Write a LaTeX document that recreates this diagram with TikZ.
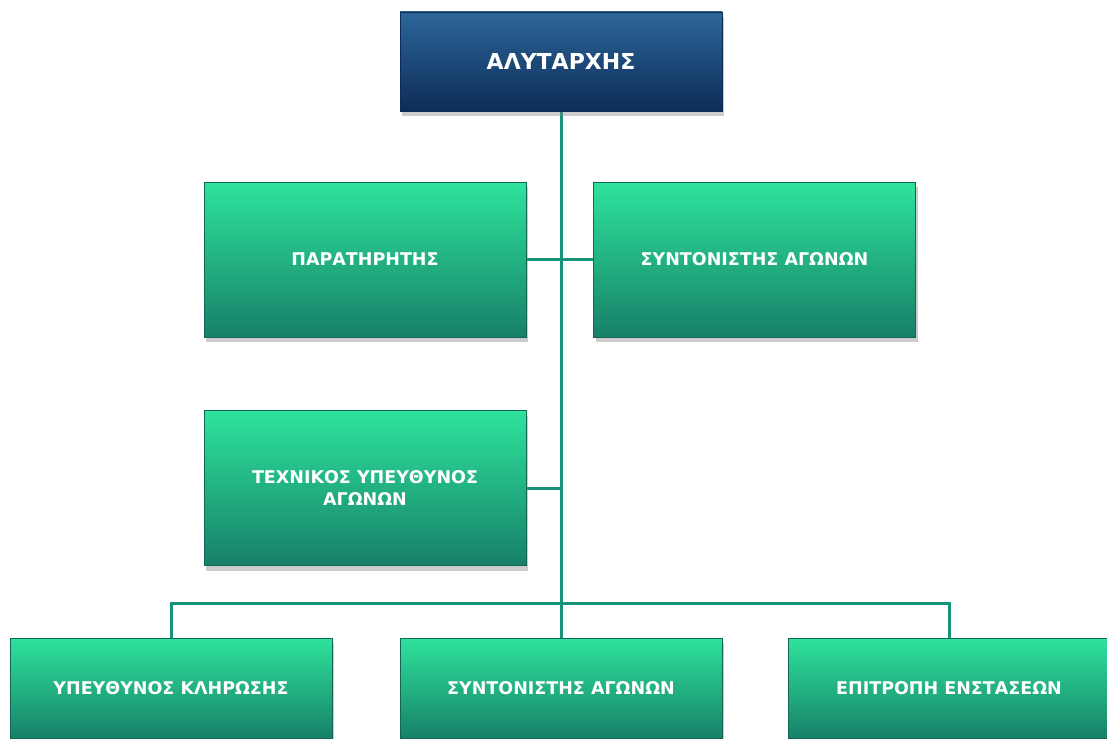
\documentclass[tikz,border=0pt]{standalone}
\usepackage{fontspec}
\setmainfont{DejaVu Sans}
\usetikzlibrary{shadows,backgrounds}
\definecolor{bluetop}{HTML}{2C6699}
\definecolor{bluebot}{HTML}{0E2C58}
\definecolor{greentop}{HTML}{2EE39C}
\definecolor{greenbot}{HTML}{178068}
\definecolor{linkcol}{HTML}{17937A}
\begin{document}
\begin{tikzpicture}[x=1pt, y=-1pt,
  box/.style={draw=greenbot!80!black, line width=0.6pt, top color=greentop, bottom color=greenbot,
    minimum width=322pt, minimum height=155pt, text=white, align=center,
    font=\bfseries\fontsize{17.5}{22}\selectfont,
    drop shadow={shadow xshift=2pt, shadow yshift=-5pt, opacity=0.4}},
  headbox/.style={box, draw=bluebot, top color=bluetop, bottom color=bluebot,
    minimum height=99pt, font=\bfseries\fontsize{22}{26}\selectfont},
  lowbox/.style={box, minimum height=100pt},
  link/.style={draw=linkcol, line width=3pt}]
\useasboundingbox (0,0) rectangle (1107,738);
% boxes
\node (chief) [headbox] at (561,61.5) {ΑΛΥΤΑΡΧΗΣ};
\node (observer) [box] at (365,259.5) {ΠΑΡΑΤΗΡΗΤΗΣ};
\node (coordA) [box] at (754.5,259.5) {ΣΥΝΤΟΝΙΣΤΗΣ ΑΓΩΝΩΝ};
\node (tech) [box] at (365,488) {ΤΕΧΝΙΚΟΣ ΥΠΕΥΘΥΝΟΣ\\ΑΓΩΝΩΝ};
\node (lot) [lowbox] at (171,688) {ΥΠΕΥΘΥΝΟΣ ΚΛΗΡΩΣΗΣ};
\node (coordB) [lowbox] at (561,688) {ΣΥΝΤΟΝΙΣΤΗΣ ΑΓΩΝΩΝ};
\node (appeals) [lowbox] at (949,688) {ΕΠΙΤΡΟΠΗ ΕΝΣΤΑΣΕΩΝ};
% connectors behind the boxes
\begin{scope}[on background layer]
\coordinate (bus) at (561,603);
\draw[link] (chief.south) -- (coordB.north);
\draw[link] (observer.east) -- (coordA.west);
\draw[link] (tech.east) -- (tech.east -| chief.south);
\draw[link] (lot.north) |- (bus) -| (appeals.north);
\end{scope}
\end{tikzpicture}
\end{document}
